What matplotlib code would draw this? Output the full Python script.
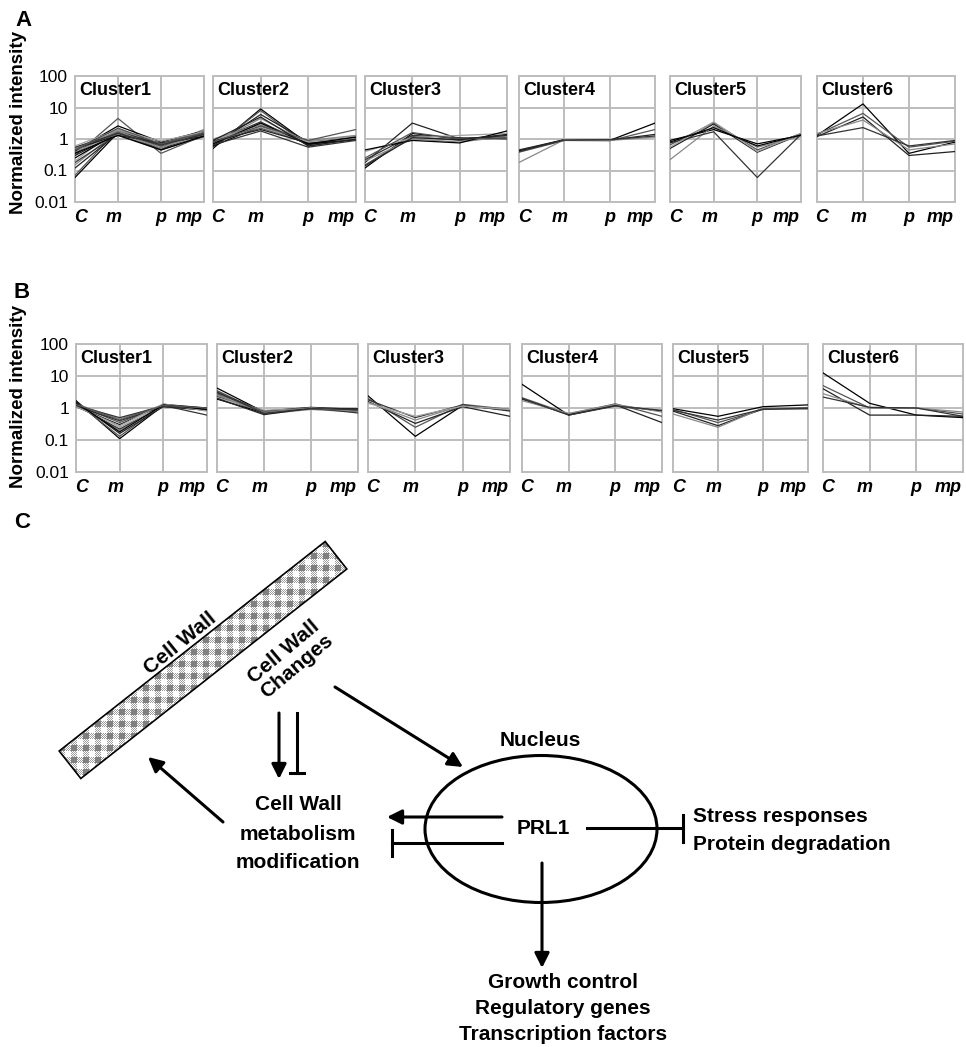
import numpy as np
import matplotlib
matplotlib.use('Agg')
import matplotlib.pyplot as plt
import matplotlib.transforms as mtransforms
from matplotlib.patches import Polygon, Ellipse
from matplotlib.ticker import NullLocator

plt.rcParams['font.family'] = ['Liberation Sans', 'DejaVu Sans']

W, H = 966, 1047

conditions = ['C', 'm', 'p', 'mp']
cluster_names = ['Cluster1', 'Cluster2', 'Cluster3', 'Cluster4', 'Cluster5', 'Cluster6']
ytick_vals = [0.01, 0.1, 1, 10, 100]
ytick_labels = ['0.01', '0.1', '1', '10', '100']

# panel A: normalized intensity profiles (C, m, p, mp)
a1 = [[0.06, 1.6, 0.5, 1.4], [0.07, 2.0, 0.6, 1.5], [0.12, 1.5, 0.55, 1.3],
      [0.15, 1.8, 0.7, 1.6], [0.18, 1.4, 0.45, 1.2], [0.2, 2.2, 0.6, 1.7],
      [0.25, 1.6, 0.65, 1.5], [0.3, 4.5, 0.35, 1.3], [0.3, 1.5, 0.5, 1.4],
      [0.35, 1.9, 0.6, 2.0], [0.38, 1.7, 0.7, 1.6], [0.4, 1.4, 0.55, 1.3],
      [0.42, 2.6, 0.8, 1.8], [0.45, 1.6, 0.6, 1.5], [0.5, 1.3, 0.75, 1.2],
      [0.5, 1.8, 0.5, 1.9], [0.55, 1.5, 0.65, 1.4], [0.6, 2.0, 0.85, 1.7],
      [0.35, 1.3, 0.45, 1.25], [0.45, 2.2, 0.7, 1.6]]
a2 = [[0.5, 9.0, 0.7, 1.1], [0.55, 8.0, 0.6, 1.0], [0.6, 6.0, 0.8, 1.2],
      [0.7, 4.5, 0.75, 1.0], [0.8, 3.5, 0.65, 1.1], [0.9, 3.0, 0.85, 1.2],
      [0.6, 2.5, 0.7, 0.95], [0.75, 2.2, 0.8, 1.0], [0.85, 2.0, 0.75, 1.1],
      [1.0, 2.8, 0.9, 1.3], [0.65, 1.8, 0.55, 0.9], [0.95, 2.4, 0.8, 1.05],
      [0.7, 3.2, 0.7, 1.15], [0.8, 2.6, 0.9, 2.0], [0.9, 5.0, 0.6, 1.0]]
a3 = [[0.12, 1.5, 1.0, 1.2], [0.15, 1.2, 0.9, 1.1], [0.18, 3.2, 1.0, 1.3],
      [0.2, 1.0, 0.8, 1.2], [0.22, 1.3, 1.1, 1.0], [0.4, 1.1, 1.3, 1.5],
      [0.45, 0.9, 0.75, 1.8], [0.25, 1.6, 1.0, 1.1], [0.14, 1.1, 0.95, 1.4]]
a4 = [[0.42, 0.95, 0.9, 3.2], [0.38, 0.9, 0.88, 2.0], [0.45, 0.95, 0.92, 1.4],
      [0.18, 0.95, 0.9, 1.15], [0.4, 0.92, 0.95, 1.25]]
a5 = [[0.9, 2.0, 0.7, 1.3], [0.65, 3.3, 0.45, 1.5], [0.5, 3.0, 0.38, 1.4],
      [0.22, 2.6, 0.55, 1.2], [0.75, 1.7, 0.06, 1.4], [0.55, 3.5, 0.4, 1.5],
      [0.8, 2.3, 0.6, 1.35]]
a6 = [[1.3, 13.0, 0.35, 0.8], [1.4, 6.5, 0.55, 0.85], [1.2, 5.0, 0.3, 0.4],
      [1.5, 4.0, 0.45, 0.7], [1.25, 2.3, 0.6, 0.9]]

# panel B
b1 = [[1.7, 0.11, 1.2, 0.9], [1.5, 0.13, 1.3, 0.85], [1.6, 0.16, 1.1, 0.95],
      [1.3, 0.2, 1.25, 0.9], [1.2, 0.22, 1.2, 0.6], [1.4, 0.25, 1.15, 0.85],
      [1.1, 0.3, 1.3, 1.0], [1.25, 0.35, 1.2, 0.9], [1.15, 0.4, 1.1, 0.85],
      [1.35, 0.45, 1.25, 0.95], [1.2, 0.5, 1.15, 0.9], [1.1, 0.28, 1.35, 0.8],
      [1.45, 0.18, 1.25, 0.9], [1.3, 0.42, 1.2, 1.0]]
b2 = [[4.2, 0.75, 1.0, 0.8], [3.5, 0.7, 0.95, 0.85], [3.0, 0.8, 1.05, 0.9],
      [2.6, 0.65, 0.9, 0.75], [2.3, 0.75, 1.0, 0.7], [2.1, 0.85, 0.95, 0.9],
      [1.9, 0.7, 1.0, 0.8], [2.8, 0.78, 0.92, 0.85], [2.0, 0.62, 0.98, 0.95],
      [2.5, 0.72, 1.02, 0.78], [3.2, 0.68, 0.97, 0.88]]
b3 = [[2.4, 0.13, 1.2, 0.85], [2.0, 0.25, 1.3, 0.9], [1.6, 0.33, 1.1, 0.55],
      [1.5, 0.42, 1.2, 0.85], [1.8, 0.5, 1.25, 0.8], [1.4, 0.55, 1.15, 0.9]]
b4 = [[5.5, 0.6, 1.2, 0.8], [2.1, 0.65, 1.35, 0.55], [1.9, 0.62, 1.25, 0.35],
      [1.7, 0.68, 1.3, 0.75], [2.0, 0.6, 1.15, 0.85]]
b5 = [[0.95, 0.55, 1.1, 1.25], [0.9, 0.35, 0.9, 0.95], [0.8, 0.28, 0.95, 1.0],
      [0.65, 0.25, 1.0, 0.92], [0.85, 0.42, 0.92, 0.98]]
b6 = [[12.5, 1.4, 0.6, 0.5], [5.0, 1.0, 1.0, 0.65], [4.0, 0.6, 0.6, 0.55],
      [2.8, 1.0, 1.0, 0.75], [2.2, 1.05, 1.0, 0.55]]

fig = plt.figure(figsize=(W / 100, H / 100), dpi=100)

GRID = '#bdbdbd'
line_colors = ['#000000', '#555555', '#222222', '#888888', '#333333', '#a0a0a0']
# x, horizontal alignment of the condition labels under each panel
xlab_pos = [(-0.03, 'left'), (0.9, 'center'), (2.0, 'center'), (2.98, 'right')]


def px_axes(x0, y0, x1, y1):
    return fig.add_axes([x0 / W, 1 - y1 / H, (x1 - x0) / W, (y1 - y0) / H])


def draw_row(boxes, y0, y1, groups):
    for i, ((x0, x1), profiles) in enumerate(zip(boxes, groups)):
        ax = px_axes(x0, y0, x1, y1)
        ax.set_yscale('log')
        for j, prof in enumerate(profiles):
            ax.plot(range(4), prof, color=line_colors[j % len(line_colors)], lw=0.9, zorder=3)
        ax.set_xlim(0, 3)
        ax.set_ylim(0.01, 100)
        ax.set_xticks(range(4))
        ax.set_xticklabels([])
        ax.set_yticks(ytick_vals)
        ax.yaxis.set_minor_locator(NullLocator())
        if i == 0:
            ax.set_yticklabels(ytick_labels, fontsize=12.5)
        else:
            ax.set_yticklabels([])
        ax.tick_params(length=0, pad=5)
        ax.grid(True, color=GRID, lw=1.4)
        ax.set_axisbelow(True)
        for s in ax.spines.values():
            s.set_color(GRID)
            s.set_linewidth(1.4)
        ax.text(0.03, 0.95, cluster_names[i], transform=ax.transAxes, fontsize=13,
                fontweight='bold', va='top', ha='left')
        trans = mtransforms.blended_transform_factory(ax.transData, ax.transAxes)
        for (xp, ha), lab in zip(xlab_pos, conditions):
            ax.text(xp, -0.12, lab, transform=trans, ha=ha, va='center', fontsize=13,
                    fontweight='bold', fontstyle='italic', clip_on=False)


boxes_a = [(75, 204), (213, 356), (365, 507), (519, 655), (670, 801), (817, 955)]
boxes_b = [(76, 207), (217, 358), (368, 510), (522, 662), (673, 808), (823, 963)]
draw_row(boxes_a, 76, 202, [a1, a2, a3, a4, a5, a6])
draw_row(boxes_b, 344, 472, [b1, b2, b3, b4, b5, b6])

# overlay in pixel coordinates for labels and the diagram
ov = fig.add_axes([0, 0, 1, 1])
ov.patch.set_alpha(0)
ov.axis('off')

for lab, (x, y) in zip(['A', 'B', 'C'], [(23, 20), (22, 292), (22, 522)]):
    ov.text(x, y, lab, fontsize=16, fontweight='bold', ha='center', va='center')
for yc in [122, 396]:
    ov.text(19, yc, 'Normalized intensity', rotation=90, fontsize=13.5, fontweight='bold',
            ha='center', va='center')

# cell wall bar
c = np.array([203.0, 660.0])
u = np.array([266.0, -209.5])
L = np.hypot(*u)
u = u / L
n = np.array([-u[1], u[0]])
if n[1] < 0:
    n = -n
hw = 17.5
corners = np.array([c + u * L / 2 + n * hw, c + u * L / 2 - n * hw,
                    c - u * L / 2 - n * hw, c - u * L / 2 + n * hw])
xmin, ymin = np.floor(corners.min(axis=0))
xmax, ymax = np.ceil(corners.max(axis=0))
pw, ph = int(xmax - xmin), int(ymax - ymin)
yy, xx = np.mgrid[0:ph, 0:pw]
r = yy % 12
cc = xx % 12
pat = np.where((xx + yy) % 2 == 0, 0.62, 1.0)
pat[(r < 6) & (cc < 6)] = 0.5
pat[(r >= 6) & (cc >= 6)] = 1.0
im = ov.imshow(pat, cmap='gray', vmin=0, vmax=1, extent=(xmin, xmax, ymax, ymin),
               interpolation='nearest', aspect='auto')
clip = Polygon(corners, closed=True, transform=ov.transData)
im.set_clip_path(clip)
ov.add_patch(Polygon(corners, closed=True, fill=False, ec='k', lw=1.2))

TXT = dict(fontsize=15, fontweight='bold')
ov.text(180, 643, 'Cell Wall', rotation=39, ha='center', va='center',
        rotation_mode='anchor', **TXT)
ov.text(290, 659, 'Cell Wall\nChanges', rotation=40, ha='center', va='center',
        rotation_mode='anchor', multialignment='center', linespacing=1.05, **TXT)

ov.add_patch(Ellipse((541, 829), 232, 147, fill=False, ec='k', lw=2.2))
ov.text(540, 740, 'Nucleus', ha='center', va='center', **TXT)
ov.text(543, 828, 'PRL1', ha='center', va='center', **TXT)

for s, yy_ in zip(['Cell Wall', 'metabolism', 'modification'], [805, 834, 862]):
    ov.text(298, yy_, s, ha='center', va='center', **TXT)
for s, yy_ in zip(['Stress responses', 'Protein degradation'], [817, 844]):
    ov.text(693, yy_, s, ha='left', va='center', **TXT)
for s, yy_ in zip(['Growth control', 'Regulatory genes', 'Transcription factors'], [982, 1009, 1035]):
    ov.text(563, yy_, s, ha='center', va='center', **TXT)

AP = dict(arrowstyle='-|>', lw=2.2, color='k', mutation_scale=22, shrinkA=0, shrinkB=0)
for (x0, y0), (x1, y1) in [((335, 687), (463, 767)), ((279, 713), (279, 779)),
                           ((223, 822), (148, 757)), ((502, 817), (387, 817)),
                           ((542, 863), (542, 968))]:
    ov.annotate('', xy=(x1, y1), xytext=(x0, y0), arrowprops=AP)

# inhibition bars
ov.plot([297, 297], [713, 773], color='k', lw=2.2)
ov.plot([290, 304], [773, 773], color='k', lw=2.2)
ov.plot([502, 392], [843, 843], color='k', lw=2.2)
ov.plot([392, 392], [830, 856], color='k', lw=2.2)
ov.plot([587, 683], [828, 828], color='k', lw=2.2)
ov.plot([683, 683], [815, 842], color='k', lw=2.2)

ov.set_xlim(0, W)
ov.set_ylim(H, 0)

fig.savefig('out.png', dpi=100)
